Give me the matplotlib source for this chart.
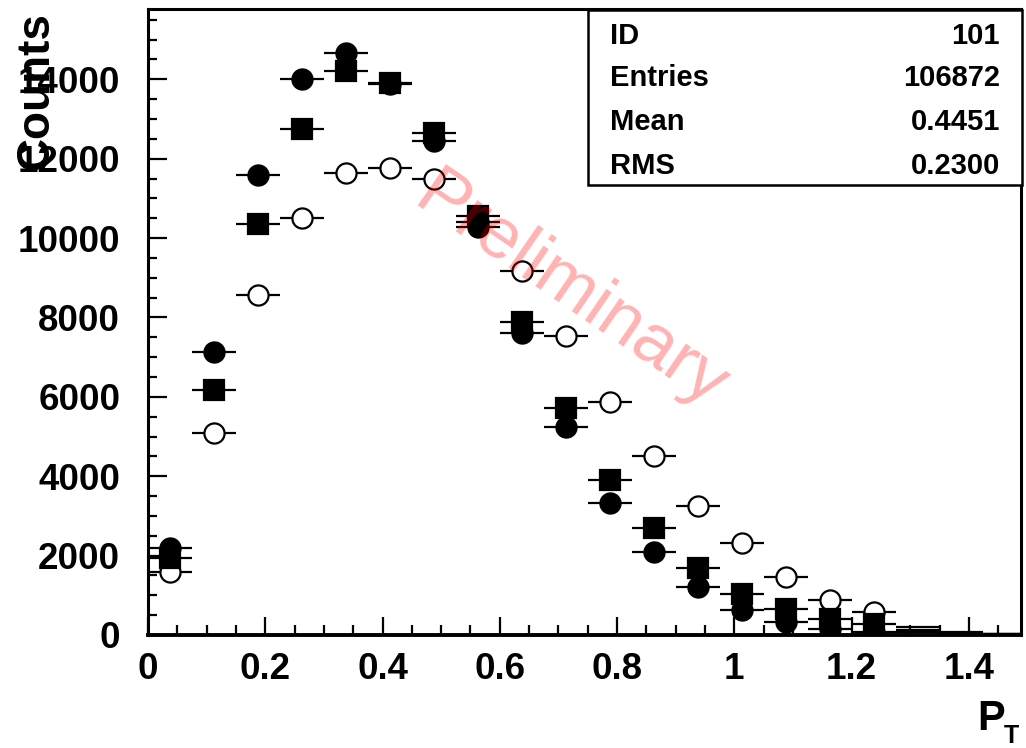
"""
pT spectra, three samples, ROOT-style histogram with stats box.
"""

# %% imports
import numpy as np
import matplotlib.pyplot as plt
from matplotlib.ticker import MultipleLocator
from matplotlib.patches import Rectangle

plt.rcParams['font.family'] = ['Liberation Sans', 'DejaVu Sans']


# %% data
bin_width = 0.075
n_bins = 20
pt_centers = np.arange(n_bins) * bin_width + bin_width / 2

counts_circle = [2200, 7140, 11600, 14000, 14670, 13890, 12440, 10280, 7620, 5230,
                 3320, 2080, 1200, 640, 340, 140, 80, 76, 40, 15]
counts_square = [1950, 6160, 10360, 12750, 14200, 13900, 12640, 10550, 7880, 5730,
                 3910, 2690, 1680, 1030, 660, 410, 280, 126, 60, 20]
counts_open = [1580, 5090, 8570, 10510, 11650, 11770, 11490, 10400, 9180, 7540,
               5870, 4510, 3240, 2330, 1450, 870, 570, 200, 80, 30]
n_marked = 17   # last bins show only the error bars

stats_names = ['ID', 'Entries', 'Mean', 'RMS']
stats_values = ['101', '106872', '0.4451', '0.2300']

xtick_vals = [0, 0.2, 0.4, 0.6, 0.8, 1.0, 1.2, 1.4]
xtick_labels = ['0', '0.2', '0.4', '0.6', '0.8', '1', '1.2', '1.4']
ytick_vals = [0, 2000, 4000, 6000, 8000, 10000, 12000, 14000]


# %% figure
W, H = 1026, 748
fig = plt.figure(figsize=(W / 100, H / 100), dpi=100)
ax = fig.add_axes([148 / W, 113 / H, 873 / W, 626 / H])

series = [
    (counts_open, 'o', 'white', 3),
    (counts_circle, 'o', 'black', 4),
    (counts_square, 's', 'black', 5),
]
for counts, marker, face, z in series:
    counts = np.array(counts)
    ax.errorbar(pt_centers, counts, xerr=bin_width / 2, fmt='none',
                ecolor='black', elinewidth=1.6, capsize=0, zorder=z)
    ax.plot(pt_centers[:n_marked], counts[:n_marked], linestyle='none',
            marker=marker, markersize=14.5, markerfacecolor=face,
            markeredgecolor='black', markeredgewidth=1.6, zorder=z)

ax.set_xlim(0, 1.489)
ax.set_ylim(0, 15770)

ax.set_xticks(xtick_vals)
ax.set_xticklabels(xtick_labels)
ax.set_yticks(ytick_vals)
ax.xaxis.set_minor_locator(MultipleLocator(0.05))
ax.yaxis.set_minor_locator(MultipleLocator(500))

ax.tick_params(axis='both', which='both', direction='in', width=1.6,
               top=False, right=False)
ax.tick_params(axis='x', which='major', length=13, pad=12)
ax.tick_params(axis='x', which='minor', length=7)
ax.tick_params(axis='y', which='major', length=14, pad=20)
ax.tick_params(axis='y', which='minor', length=6.5)
for lab in ax.get_xticklabels() + ax.get_yticklabels():
    lab.set_fontsize(26.5)
    lab.set_fontweight('bold')

for side in ['left', 'bottom', 'top', 'right']:
    ax.spines[side].set_linewidth(2.2)
ax.spines['bottom'].set_linewidth(2.8)


# %% axis titles (ROOT places them at the axis ends, over the tick labels)
fig.text(36 / W, 1 - 12 / H, 'Counts', rotation=90, ha='center', va='top',
         fontsize=33, fontweight='bold')
fig.text(977 / W, 1 - 730 / H, 'P', ha='left', va='baseline',
         fontsize=30, fontweight='bold')
fig.text(1004 / W, 1 - 743 / H, 'T', ha='left', va='baseline',
         fontsize=18, fontweight='bold')


# %% stats box
box = Rectangle((588 / W, 1 - 185 / H), (1022 - 588) / W, 175 / H,
                transform=fig.transFigure, facecolor='white',
                edgecolor='black', linewidth=1.8, zorder=20)
fig.add_artist(box)
row_y = [43.5, 86.5, 129.5, 173.5]
for name, val, yb in zip(stats_names, stats_values, row_y):
    fig.text(610 / W, 1 - yb / H, name, ha='left', va='baseline',
             fontsize=21, fontweight='bold', zorder=21)
    fig.text(1000 / W, 1 - yb / H, val, ha='right', va='baseline',
             fontsize=21, fontweight='bold', zorder=21)


# %% watermark
ax.text(0.484, 0.548, 'Preliminary', transform=ax.transAxes,
        rotation=-34.5, rotation_mode='anchor', ha='center', va='center',
        fontsize=52, color='red', alpha=0.3, zorder=10)

fig.savefig('out.png', dpi=100)
